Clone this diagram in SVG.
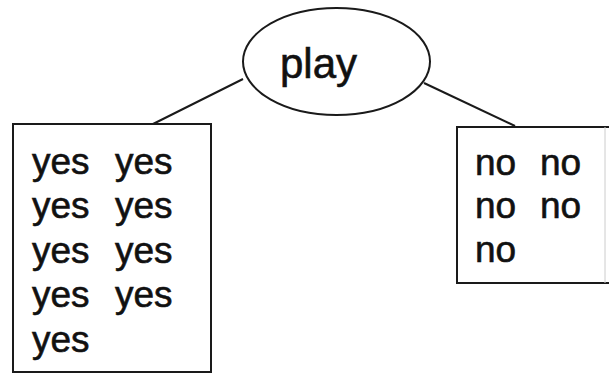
<svg xmlns="http://www.w3.org/2000/svg" width="609" height="374" viewBox="0 0 609 374">
<style>
.s{fill:none;stroke:#1a1a1a;stroke-width:2}
.t{font-family:"Liberation Sans",Arial,sans-serif;fill:#111;stroke:#111;stroke-width:0.6}
.b{font-size:37px}
</style>
<rect width="609" height="374" fill="#fff"/>
<g id="connectors">
<line class="s" x1="153" y1="124" x2="243" y2="79"/>
<line class="s" x1="424" y1="83" x2="515" y2="126"/>
</g>
<g id="play">
<ellipse class="s" cx="336.5" cy="61.5" rx="93.5" ry="53.5" fill="#fff"/>
<text class="t" x="280" y="78" font-size="42">play</text>
</g>
<g id="yesbox">
<rect class="s" x="13" y="124" width="198" height="248"/>
<g class="t b">
<text x="32" y="174">yes</text><text x="115" y="174">yes</text>
<text x="32" y="218">yes</text><text x="115" y="218">yes</text>
<text x="32" y="263">yes</text><text x="115" y="263">yes</text>
<text x="32" y="307">yes</text><text x="115" y="307">yes</text>
<text x="32" y="352">yes</text>
</g>
</g>
<g id="nobox">
<path class="s" d="M609 127H457V283H609"/>
<line x1="605" y1="127" x2="605" y2="283" stroke="#ccc" stroke-width="1"/>
<g class="t b">
<text x="475" y="175">no</text><text x="540" y="175">no</text>
<text x="475" y="218">no</text><text x="540" y="218">no</text>
<text x="475" y="262">no</text>
</g>
</g>
</svg>
